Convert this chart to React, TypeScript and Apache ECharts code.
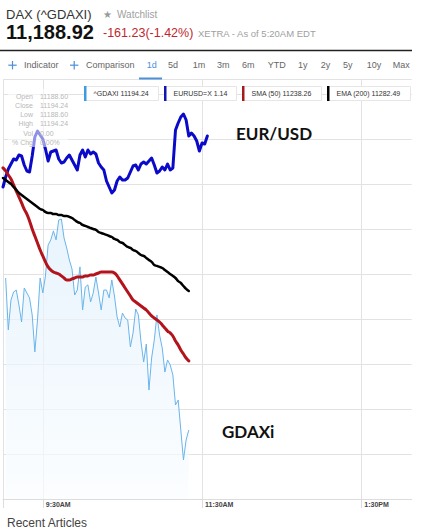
import React, { useEffect, useRef } from "react";
import * as echarts from "echarts";

// ---- data ----
const TICK_LABELS = ["9:30AM", "11:30AM", "1:30PM"];

const GDAXI = [null, 11281.5, 11249.2, 11267.8, 11272.8, 11274.0, 11264.7, 11254.1, 11275.3, 11272.2,
  11269.1, 11258.5, 11235.5, 11255.4, 11281.5, 11272.2, 11282.8, 11302.0, 11305.2, 11310.8,
  11305.2, 11317.6, 11318.2, 11306.4, 11300.2, 11292.7, 11287.1, 11270.9, 11274.0, 11288.4,
  11261.6, 11275.9, 11277.2, 11266.6, 11272.2, 11282.1, 11272.2, 11261.6, 11274.0, 11274.0,
  11269.1, 11280.3, 11270.3, 11257.2, 11251.0, 11259.7, 11256.6, 11255.4, 11238.6, 11247.3,
  11262.2, 11258.5, 11241.7, 11229.2, 11240.4, 11211.8, 11231.7, 11242.9, 11258.5, 11246.0,
  11238.0, 11223.0, 11230.5, 11227.4, 11221.2, 11202.5, 11205.6, 11186.9, 11168.3, 11180.7,
  11186.9];

const EURUSD = [1.14248, 1.14288, 1.14320, 1.14340, 1.14360, 1.14356, 1.14376, 1.14372, 1.14336, 1.14312,
  1.14308, 1.14372, 1.14448, 1.14472, 1.14456, 1.14440, 1.14400, 1.14352, 1.14388, 1.14392,
  1.14396, 1.14360, 1.14344, 1.14348, 1.14364, 1.14376, 1.14356, 1.14336, 1.14316, 1.14376,
  1.14396, 1.14368, 1.14396, 1.14380, 1.14388, 1.14380, 1.14344, 1.14328, 1.14316, 1.14272,
  1.14248, 1.14224, 1.14236, 1.14272, 1.14288, 1.14276, 1.14276, 1.14284, 1.14308, 1.14332,
  1.14336, 1.14316, 1.14340, 1.14348, 1.14340, 1.14352, 1.14364, 1.14336, 1.14304, 1.14312,
  1.14328, 1.14316, 1.14340, 1.14316, 1.14324, 1.14476, 1.14504, 1.14528, 1.14540, 1.14516,
  1.14452, 1.14464, 1.14452, 1.14432, 1.14392, 1.14424, 1.14420, 1.14452];

const SMA50 = [11350.0, 11348.1, 11345.6, 11343.1, 11339.4, 11335.6, 11331.9, 11328.2, 11324.4, 11321.3,
  11317.0, 11312.0, 11307.6, 11303.3, 11298.9, 11295.2, 11291.5, 11288.4, 11286.5, 11285.2,
  11284.6, 11284.0, 11282.8, 11281.5, 11280.3, 11280.3, 11280.9, 11281.5, 11282.1, 11282.1,
  11282.1, 11282.8, 11282.8, 11283.4, 11283.4, 11284.0, 11284.6, 11285.2, 11285.2, 11285.2,
  11285.2, 11285.2, 11284.6, 11282.8, 11280.3, 11277.8, 11275.3, 11272.8, 11270.3, 11267.8,
  11266.6, 11265.3, 11264.1, 11262.8, 11261.6, 11259.7, 11257.9, 11256.6, 11255.4, 11254.1,
  11252.3, 11250.4, 11248.5, 11247.3, 11245.4, 11242.3, 11239.8, 11236.7, 11234.2, 11231.7,
  11229.9];

const EMA200 = [11343.7, 11342.5, 11341.2, 11340.0, 11338.1, 11336.3, 11334.4, 11333.2, 11331.9, 11330.7,
  11329.4, 11328.2, 11326.9, 11325.7, 11324.4, 11323.8, 11322.6, 11322.0, 11322.0, 11321.3,
  11321.3, 11320.7, 11320.7, 11320.1, 11320.1, 11319.5, 11318.8, 11317.6, 11316.4, 11315.7,
  11314.5, 11313.9, 11313.2, 11312.6, 11312.0, 11311.4, 11310.1, 11309.5, 11308.9, 11308.3,
  11307.6, 11307.0, 11305.8, 11305.2, 11303.9, 11303.3, 11302.0, 11300.8, 11300.2, 11298.9,
  11298.3, 11297.1, 11295.8, 11295.2, 11294.0, 11292.7, 11291.5, 11289.6, 11289.0, 11288.4,
  11287.7, 11286.5, 11285.2, 11284.0, 11282.8, 11281.5, 11279.6, 11278.4, 11276.5, 11274.7,
  11273.4];

const LEGEND_LABELS = ["^GDAXI 11194.24", "EURUSD=X 1.14", "SMA (50) 11238.26", "EMA (200) 11282.49"];
const OHLC_LABELS = ["Open", "Close", "Low", "High", "Vol", "% Chg"];
const OHLC_VALUES = ["11188.60", "11194.24", "11188.60", "11194.24", "0.00", "0.00%"];
const RANGES = ["1d", "5d", "1m", "3m", "6m", "YTD", "1y", "2y", "5y", "10y", "Max"];

// time categories: 9:00AM .. in 2-minute steps
const fmtTime = (m: number) => {
  const h24 = Math.floor(m / 60);
  const mm = m % 60;
  const h = h24 > 12 ? h24 - 12 : h24;
  return `${h}:${mm < 10 ? "0" + mm : mm}${h24 >= 12 ? "PM" : "AM"}`;
};
const TIMES: string[] = [];
for (let i = 0; i <= 154; i++) TIMES.push(fmtTime(540 + 2 * i));

const GRID_IDX = [0, ...TICK_LABELS.map((t) => TIMES.indexOf(t))];

const SANS = "Liberation Sans, Arial, sans-serif";

const txt = (text: string, x: number, y: number, size: number, color: string, o: any = {}) => ({
  type: "text",
  x,
  y,
  z: 100,
  style: {
    text,
    fontSize: size,
    fontFamily: o.family || SANS,
    fontWeight: o.weight || "normal",
    fill: color,
    align: o.align || "left",
    verticalAlign: "middle",
  },
});

export default function App() {
  const ref = useRef<HTMLDivElement>(null);
  useEffect(() => {
    if (!ref.current) return;
    const chart = echarts.init(ref.current, undefined, { renderer: "svg" });

    const rangeX = [146.7, 168, 192.7, 217, 242, 267.7, 298, 320.7, 343, 366.7, 392.7];
    const legendBoxes = [
      { x: 84, w: 74, c: "#3d9be0" },
      { x: 164, w: 72, c: "#1414b4" },
      { x: 242, w: 79, c: "#a51a1a" },
      { x: 327, w: 83, c: "#000000" },
    ];

    const graphic: any[] = [
      txt("DAX (^GDAXI)", 6, 14, 13, "#333"),
      txt("★", 103, 14, 10, "#999", { family: "DejaVu Sans" }),
      txt("Watchlist", 117, 14.5, 10, "#a0a0a0"),
      txt("11,188.92", 6, 32, 20, "#111", { weight: "bold" }),
      txt("-161.23(-1.42%)", 103, 33, 12.5, "#c0272d"),
      txt("XETRA - As of 5:20AM EDT", 198, 33.5, 9.5, "#a0a0a0"),
      { type: "line", z: 100, shape: { x1: 0, y1: 50.5, x2: 412, y2: 50.5 }, style: { stroke: "#222", lineWidth: 1.5 } },
      // nav row
      { type: "line", z: 100, shape: { x1: 8.3, y1: 65.2, x2: 16.7, y2: 65.2 }, style: { stroke: "#4a90d9", lineWidth: 1.2 } },
      { type: "line", z: 100, shape: { x1: 12.5, y1: 61, x2: 12.5, y2: 69.4 }, style: { stroke: "#4a90d9", lineWidth: 1.2 } },
      txt("Indicator", 24, 65, 9, "#666"),
      { type: "line", z: 100, shape: { x1: 70, y1: 65.2, x2: 78.4, y2: 65.2 }, style: { stroke: "#4a90d9", lineWidth: 1.2 } },
      { type: "line", z: 100, shape: { x1: 74.2, y1: 61, x2: 74.2, y2: 69.4 }, style: { stroke: "#4a90d9", lineWidth: 1.2 } },
      txt("Comparison", 86, 65, 9, "#666"),
      ...RANGES.map((r, k) => txt(r, rangeX[k], 65, 9, k === 0 ? "#4a90d9" : "#666")),
      { type: "rect", z: 100, shape: { x: 139, y: 77.5, width: 23, height: 2 }, style: { fill: "#4a90d9" } },
      // OHLC overlay
      { type: "rect", z: 99, shape: { x: 8, y: 89, width: 60, height: 58 }, style: { fill: "rgba(255,255,255,0.55)" } },
      ...OHLC_LABELS.map((l, k) => txt(l, 33, 96 + k * 9.25, 7, "#b8b8b8", { align: "right" })),
      ...OHLC_VALUES.map((v, k) => txt(v, 40, 96 + k * 9.25, 7, "#b8b8b8")),
      // legend boxes
      ...legendBoxes.flatMap((b, k) => [
        { type: "rect", z: 100, shape: { x: b.x + 0.5, y: 86.5, width: b.w, height: 14 }, style: { fill: "#fff", stroke: "#e6e6e6", lineWidth: 1 } },
        { type: "rect", z: 101, shape: { x: b.x, y: 86, width: 2.5, height: 15 }, style: { fill: b.c } },
        txt(LEGEND_LABELS[k], b.x + 9.5, 93.5, 7, "#333"),
      ]),
      // annotations
      txt("EUR/USD", 236, 133, 17, "#111", { weight: "bold", family: "Lato, Open Sans, sans-serif" }),
      txt("GDAXi", 222, 431, 17, "#111", { weight: "bold", family: "Lato, Open Sans, sans-serif" }),
      txt("Recent Articles", 7, 522.5, 12, "#444"),
    ];

    chart.setOption({
      animation: false,
      backgroundColor: "#fff",
      grid: { left: 3, right: 21.3, top: 79, bottom: 31, containLabel: false },
      xAxis: {
        type: "category",
        data: TIMES,
        boundaryGap: false,
        axisLine: { show: true, lineStyle: { color: "#dcdcdc", width: 1 } },
        axisTick: { show: true, length: 9, interval: (i: number) => GRID_IDX.includes(i), lineStyle: { color: "#dcdcdc" } },
        axisLabel: {
          interval: (i: number, v: string) => TICK_LABELS.includes(v),
          align: "left",
          padding: [0, 0, 0, 3],
          margin: 2,
          fontSize: 7,
          fontWeight: "bold",
          color: "#444",
          fontFamily: SANS,
        },
        splitLine: { show: true, interval: (i: number) => GRID_IDX.includes(i), lineStyle: { color: "#e2e2e2" } },
      },
      yAxis: [
        {
          type: "value",
          min: 11144,
          max: 11405.3,
          interval: 28,
          axisLabel: { show: false },
          axisTick: { show: false },
          axisLine: { show: false },
          splitLine: { show: true, lineStyle: { color: "#e2e2e2" } },
        },
        {
          type: "value",
          min: 1.13,
          max: 1.1468,
          show: false,
          splitLine: { show: false },
        },
      ],
      series: [
        {
          name: "^GDAXI",
          type: "line",
          data: GDAXI,
          showSymbol: false,
          lineStyle: { color: "#6ab4ea", width: 1 },
          itemStyle: { color: "#6ab4ea" },
          areaStyle: {
            color: new echarts.graphic.LinearGradient(0, 0, 0, 1, [
              { offset: 0, color: "#dfeffc" },
              { offset: 1, color: "#fafdff" },
            ]),
          },
          z: 2,
        },
        {
          name: "EURUSD=X",
          type: "line",
          yAxisIndex: 1,
          data: EURUSD,
          showSymbol: false,
          lineStyle: { color: "#0a0ac8", width: 3, join: "round", cap: "round" },
          z: 3,
        },
        {
          name: "SMA (50)",
          type: "line",
          data: SMA50,
          showSymbol: false,
          smooth: true,
          lineStyle: { color: "#b3141c", width: 3, join: "round", cap: "round" },
          z: 4,
        },
        {
          name: "EMA (200)",
          type: "line",
          data: EMA200,
          showSymbol: false,
          smooth: true,
          lineStyle: { color: "#000", width: 2.5, join: "round", cap: "round" },
          z: 5,
        },
      ],
      graphic,
    });
    return () => chart.dispose();
  }, []);
  return (
    <div
      ref={ref}
      style={{ position: "absolute", left: 0, top: 0, width: 433, height: 530, background: "#fff" }}
    />
  );
}
